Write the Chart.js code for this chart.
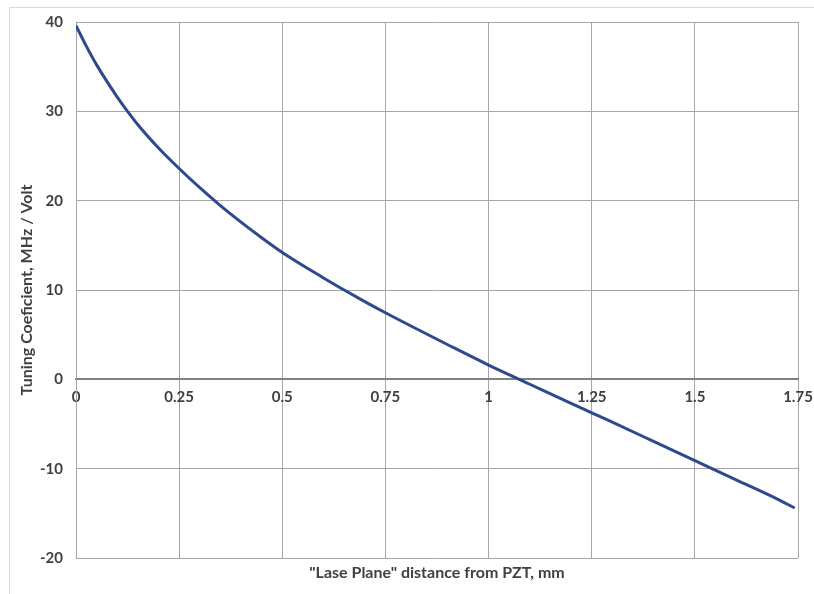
<!DOCTYPE html>
<html>
<head>
<meta charset="utf-8">
<script src="https://cdn.jsdelivr.net/npm/chart.js@4.4.1/dist/chart.umd.min.js"></script>
<style>
  body { margin: 0; background: #fff; }
  #wrap { position: relative; width: 814px; height: 594px; }
  #frame { position: absolute; left: 9px; top: 7px; right: 0; bottom: 0; border-top: 1px solid #d9d9d9; border-left: 1px solid #d9d9d9; }
  #Chart { position: absolute; left: 0; top: 0; }
</style>
</head>
<body>
<div id="wrap">
  <div id="frame"></div>
  <canvas id="Chart" width="814" height="594"></canvas>
</div>
<script>
// distance from PZT (mm) and tuning coefficient (MHz / Volt)
const distancia = [0, 0.025, 0.05, 0.1, 0.125, 0.15, 0.2, 0.25, 0.3, 0.35, 0.4, 0.45, 0.5, 0.6, 0.65, 0.7, 0.75, 0.8, 0.9, 1.0, 1.1, 1.2, 1.25, 1.3, 1.4, 1.5, 1.6, 1.7, 1.742];
const coeficiente = [39.6, 37.3, 35.2, 31.6, 30.0, 28.5, 25.9, 23.6, 21.45, 19.45, 17.6, 15.85, 14.2, 11.35, 10.0, 8.7, 7.45, 6.25, 3.9, 1.6, -0.55, -2.7, -3.75, -4.8, -6.95, -9.1, -11.25, -13.4, -14.4];

const xTickLabels = ['0', '0.25', '0.5', '0.75', '1', '1.25', '1.5', '1.75'];
const yTickLabels = ['-20', '-10', '0', '10', '20', '30', '40'];

const fuente = "'Lato', 'Open Sans', sans-serif";
const gris = '#a6a6a6';

const ctx = document.getElementById('Chart');

new Chart(ctx, {
  type: 'line',
  data: {
    datasets: [{
      label: 'Tuning Coeficient',
      data: distancia.map((d, i) => ({ x: d, y: coeficiente[i] })),
      borderColor: '#2e4a8e',
      borderWidth: 3,
      pointRadius: 0,
      fill: false,
      cubicInterpolationMode: 'monotone'
    }]
  },
  options: {
    responsive: false,
    animation: false,
    layout: { padding: { left: 10, top: 21, right: 16, bottom: 0 } },
    plugins: { legend: { display: false }, tooltip: { enabled: false } },
    scales: {
      x: {
        type: 'linear',
        position: { y: 0 },
        min: 0,
        max: 1.75,
        afterFit: (scale) => {
          scale.height = 0;
          scale.paddingLeft = 0;
          scale.paddingRight = 0;
        },
        afterBuildTicks: (scale) => {
          scale.ticks = xTickLabels.map(t => ({ value: parseFloat(t) }));
        },
        ticks: {
          autoSkip: false,
          maxRotation: 0,
          padding: 9,
          color: '#404040',
          font: { family: fuente, size: 15, weight: 'bold' },
          callback: (v, i) => xTickLabels[i]
        },
        grid: { color: gris, lineWidth: 1, drawTicks: false },
        border: { display: true, color: '#808080', width: 2 }
      },
      x2: {
        type: 'linear',
        position: 'bottom',
        min: 0,
        max: 1.75,
        afterFit: (scale) => {
          scale.height = 36;
          scale.paddingLeft = 0;
          scale.paddingRight = 0;
        },
        ticks: { display: false },
        grid: { display: false, drawTicks: false },
        border: { display: false },
        title: {
          display: true,
          text: '"Lase Plane" distance from PZT, mm',
          color: '#404040',
          font: { family: fuente, size: 16, weight: 'bold' },
          padding: { top: 0, bottom: 12 }
        }
      },
      y: {
        type: 'linear',
        min: -20,
        max: 40,
        afterFit: (scale) => { scale.width = 66; },
        afterBuildTicks: (scale) => {
          scale.ticks = yTickLabels.map(t => ({ value: parseFloat(t) }));
        },
        ticks: {
          padding: 13,
          color: '#404040',
          font: { family: fuente, size: 15, weight: 'bold' },
          callback: (v, i) => yTickLabels[i]
        },
        grid: { color: gris, lineWidth: 1, drawTicks: false },
        border: { display: true, color: gris, width: 1 },
        title: {
          display: true,
          text: 'Tuning Coeficient, MHz / Volt',
          color: '#404040',
          font: { family: fuente, size: 16, weight: 'bold' },
          padding: { top: 7, bottom: 0 }
        }
      }
    }
  }
});
</script>
</body>
</html>
